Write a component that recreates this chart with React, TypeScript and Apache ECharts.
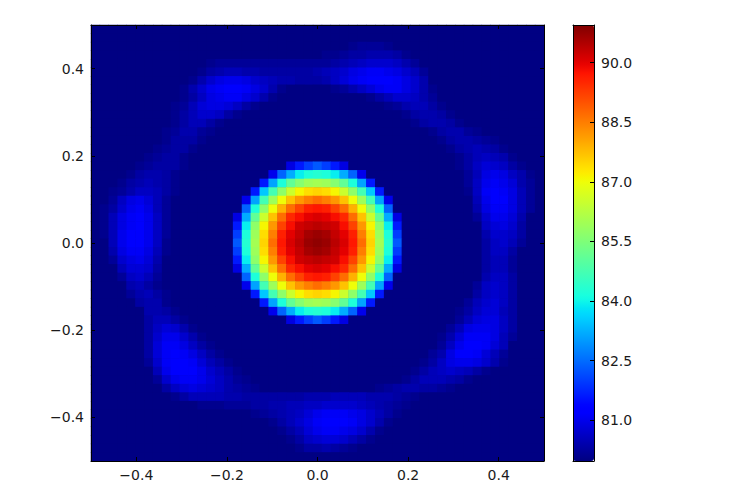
import React, { useEffect, useRef } from "react";
import * as echarts from "echarts";

const gridSize = 51;
const backgroundValue = 80;
const colorMin = 79.97;
const colorMax = 90.95;
const axisTicks = [-0.4, -0.2, 0, 0.2, 0.4];
const colorbarTicks = [81, 82.5, 84, 85.5, 87, 88.5, 90];

// Each entry: [row from top, first column, ...cell values]
const coreRows: number[][] = [
  [16, 22, 80.9, 81.6, 82.0, 82.3, 82.0, 81.6, 80.9],
  [17, 20, 81.0, 82.4, 83.2, 83.9, 84.2, 84.3, 84.2, 83.9, 83.2, 82.4, 81.0],
  [18, 19, 81.6, 83.1, 84.2, 85.1, 85.6, 85.9, 86.0, 85.9, 85.6, 85.1, 84.2, 83.1, 81.6],
  [19, 18, 81.6, 83.5, 84.7, 85.7, 86.5, 87.1, 87.4, 87.5, 87.4, 87.1, 86.5, 85.7, 84.7, 83.5, 81.6],
  [20, 17, 81.0, 83.1, 84.7, 85.9, 87.0, 87.7, 88.2, 88.5, 88.7, 88.5, 88.2, 87.7, 87.0, 85.9, 84.7, 83.1, 81.0],
  [21, 17, 82.4, 84.2, 85.7, 87.0, 87.9, 88.7, 89.2, 89.6, 89.7, 89.6, 89.2, 88.7, 87.9, 87.0, 85.7, 84.2, 82.4],
  [22, 16, 80.9, 83.2, 85.1, 86.5, 87.7, 88.7, 89.5, 89.8, 90.0, 90.1, 90.0, 89.8, 89.5, 88.7, 87.7, 86.5, 85.1, 83.2, 80.9],
  [23, 16, 81.6, 83.9, 85.7, 87.1, 88.2, 89.2, 89.8, 90.2, 90.3, 90.4, 90.3, 90.2, 89.8, 89.2, 88.2, 87.1, 85.7, 83.9, 81.6],
  [24, 16, 82.0, 84.2, 85.9, 87.4, 88.5, 89.6, 90.0, 90.3, 90.6, 90.7, 90.6, 90.3, 90.0, 89.6, 88.5, 87.4, 85.9, 84.2, 82.0],
  [25, 16, 82.3, 84.3, 86.0, 87.5, 88.7, 89.7, 90.1, 90.4, 90.7, 90.8, 90.7, 90.4, 90.1, 89.7, 88.7, 87.5, 86.0, 84.3, 82.3],
  [26, 16, 82.0, 84.2, 85.9, 87.4, 88.5, 89.6, 90.0, 90.3, 90.6, 90.7, 90.6, 90.3, 90.0, 89.6, 88.5, 87.4, 85.9, 84.2, 82.0],
  [27, 16, 81.6, 83.9, 85.7, 87.1, 88.2, 89.2, 89.8, 90.2, 90.3, 90.4, 90.3, 90.2, 89.8, 89.2, 88.2, 87.1, 85.7, 83.9, 81.6],
  [28, 16, 80.9, 83.2, 85.1, 86.5, 87.7, 88.7, 89.5, 89.8, 90.0, 90.1, 90.0, 89.8, 89.5, 88.7, 87.7, 86.5, 85.1, 83.2, 80.9],
  [29, 17, 82.4, 84.2, 85.7, 87.0, 87.9, 88.7, 89.2, 89.6, 89.7, 89.6, 89.2, 88.7, 87.9, 87.0, 85.7, 84.2, 82.4],
  [30, 17, 81.0, 83.1, 84.7, 85.9, 87.0, 87.7, 88.2, 88.5, 88.7, 88.5, 88.2, 87.7, 87.0, 85.9, 84.7, 83.1, 81.0],
  [31, 18, 81.6, 83.5, 84.7, 85.7, 86.5, 87.1, 87.4, 87.5, 87.4, 87.1, 86.5, 85.7, 84.7, 83.5, 81.6],
  [32, 19, 81.6, 83.1, 84.2, 85.1, 85.6, 85.9, 86.0, 85.9, 85.6, 85.1, 84.2, 83.1, 81.6],
  [33, 20, 81.0, 82.4, 83.2, 83.9, 84.2, 84.3, 84.2, 83.9, 83.2, 82.4, 81.0],
  [34, 22, 80.9, 81.6, 82.0, 82.3, 82.0, 81.6, 80.9],
];

const ringRows: number[][] = [
  [2, 29, 80.1, 80.2, 80.2, 80.2, 80.1],
  [3, 26, 80.1, 80.1, 80.2, 80.3, 80.3, 80.4, 80.4, 80.4, 80.3, 80.1],
  [4, 13, 80.1, 80.2, 80.2, 80.2, 80.2, 80.2, 80.2, 80.2, 80.2, 80.2, 80.2, 80.2, 80.2, 80.2, 80.3, 80.4, 80.5, 80.6, 80.7, 80.7, 80.7, 80.6, 80.4, 80.2],
  [5, 12, 80.1, 80.3, 80.4, 80.5, 80.5, 80.4, 80.4, 80.3, 80.3, 80.3, 80.3, 80.3, 80.3, 80.4, 80.5, 80.6, 80.7, 80.9, 81.0, 81.1, 81.1, 81.0, 80.9, 80.7, 80.5, 80.2],
  [6, 11, 80.1, 80.4, 80.7, 80.9, 81.0, 81.0, 80.9, 80.7, 80.6, 80.5, 80.4, 80.4, 80.3, 80.3, 80.3, 80.4, 80.6, 80.8, 81.0, 81.1, 81.2, 81.2, 81.2, 81.1, 80.9, 80.7, 80.4],
  [7, 10, 80.1, 80.4, 80.7, 81.0, 81.1, 81.2, 81.2, 81.1, 80.9, 80.7, 80.4, 80.1],
  [7, 27, 80.1, 80.2, 80.4, 80.6, 80.8, 81.0, 81.1, 81.1, 80.9, 80.7, 80.4, 80.1],
  [8, 10, 80.1, 80.3, 80.6, 80.9, 81.0, 81.1, 81.1, 80.9, 80.7, 80.4, 80.1],
  [8, 31, 80.1, 80.3, 80.5, 80.7, 80.7, 80.6, 80.4, 80.2],
  [9, 9, 80.1, 80.2, 80.5, 80.8, 80.9, 80.9, 80.8, 80.6, 80.3, 80.1],
  [9, 33, 80.1, 80.2, 80.4, 80.5, 80.5, 80.3, 80.1],
  [10, 9, 80.1, 80.3, 80.5, 80.7, 80.7, 80.6, 80.3, 80.1],
  [10, 35, 80.1, 80.3, 80.4, 80.4, 80.3, 80.1],
  [11, 9, 80.1, 80.3, 80.5, 80.5, 80.3, 80.1],
  [11, 36, 80.1, 80.3, 80.4, 80.4, 80.3, 80.1],
  [12, 8, 80.1, 80.2, 80.4, 80.4, 80.2, 80.1],
  [12, 38, 80.1, 80.3, 80.4, 80.4, 80.2, 80.1],
  [13, 8, 80.1, 80.3, 80.3, 80.3, 80.1],
  [13, 39, 80.1, 80.3, 80.4, 80.4, 80.3, 80.2, 80.1],
  [14, 7, 80.1, 80.2, 80.3, 80.3, 80.1],
  [14, 40, 80.1, 80.3, 80.4, 80.5, 80.4, 80.3, 80.1],
  [15, 6, 80.1, 80.2, 80.3, 80.3, 80.1],
  [15, 41, 80.1, 80.3, 80.5, 80.6, 80.5, 80.4, 80.1],
  [16, 5, 80.1, 80.2, 80.3, 80.3, 80.3, 80.1],
  [16, 41, 80.1, 80.3, 80.6, 80.8, 80.7, 80.6, 80.3, 80.1],
  [17, 4, 80.1, 80.3, 80.4, 80.4, 80.3, 80.1],
  [17, 42, 80.2, 80.5, 80.9, 81.0, 80.9, 80.6, 80.4, 80.1],
  [18, 3, 80.1, 80.3, 80.4, 80.5, 80.4, 80.3, 80.1],
  [18, 42, 80.2, 80.6, 81.0, 81.1, 81.0, 80.8, 80.4, 80.2],
  [19, 2, 80.1, 80.2, 80.4, 80.6, 80.6, 80.5, 80.3, 80.1],
  [19, 42, 80.1, 80.6, 81.1, 81.2, 81.1, 80.9, 80.5, 80.2],
  [20, 2, 80.2, 80.6, 80.9, 81.0, 80.8, 80.5, 80.2],
  [20, 43, 80.5, 81.0, 81.2, 81.2, 80.9, 80.5, 80.2],
  [21, 1, 80.1, 80.3, 80.7, 81.0, 81.1, 80.9, 80.5, 80.2],
  [21, 43, 80.4, 80.9, 81.1, 81.1, 80.9, 80.5, 80.2],
  [22, 1, 80.1, 80.5, 80.9, 81.1, 81.2, 81.0, 80.6, 80.2],
  [22, 43, 80.2, 80.7, 81.0, 81.0, 80.8, 80.4],
  [23, 1, 80.1, 80.5, 80.9, 81.1, 81.2, 81.0, 80.6, 80.2],
  [23, 44, 80.6, 80.8, 80.9, 80.7, 80.3],
  [24, 1, 80.1, 80.5, 81.0, 81.2, 81.2, 81.0, 80.6, 80.2],
  [24, 44, 80.4, 80.7, 80.7, 80.6, 80.3],
  [25, 2, 80.5, 81.0, 81.2, 81.2, 81.0, 80.6, 80.1],
  [25, 44, 80.3, 80.6, 80.7, 80.5, 80.2],
  [26, 2, 80.4, 80.9, 81.1, 81.1, 80.9, 80.5, 80.1],
  [26, 44, 80.3, 80.6, 80.6, 80.3],
  [27, 2, 80.2, 80.7, 80.9, 81.0, 80.8, 80.4],
  [27, 44, 80.3, 80.5, 80.5, 80.2],
  [28, 3, 80.5, 80.8, 80.8, 80.7, 80.3],
  [28, 44, 80.3, 80.5, 80.5, 80.2],
  [29, 3, 80.2, 80.6, 80.7, 80.5, 80.2],
  [29, 44, 80.4, 80.6, 80.6, 80.3],
  [30, 4, 80.4, 80.5, 80.3, 80.1],
  [30, 43, 80.2, 80.6, 80.7, 80.6, 80.3],
  [31, 4, 80.2, 80.4, 80.5, 80.3, 80.1],
  [31, 43, 80.3, 80.6, 80.7, 80.6, 80.3],
  [32, 5, 80.3, 80.4, 80.4, 80.1],
  [32, 42, 80.2, 80.5, 80.7, 80.8, 80.6, 80.3],
  [33, 6, 80.4, 80.4, 80.3, 80.1],
  [33, 41, 80.1, 80.3, 80.6, 80.8, 80.8, 80.5, 80.3],
  [34, 6, 80.3, 80.5, 80.5, 80.3, 80.1],
  [34, 41, 80.2, 80.5, 80.8, 80.9, 80.9, 80.6, 80.3],
  [35, 6, 80.3, 80.6, 80.8, 80.7, 80.4, 80.1],
  [35, 40, 80.2, 80.5, 80.9, 81.0, 81.0, 80.9, 80.6, 80.3],
  [36, 6, 80.3, 80.7, 81.0, 81.0, 80.7, 80.4, 80.1],
  [36, 39, 80.1, 80.4, 80.8, 81.1, 81.1, 81.1, 80.9, 80.5, 80.2],
  [37, 6, 80.3, 80.8, 81.1, 81.1, 80.9, 80.6, 80.3, 80.1],
  [37, 39, 80.2, 80.6, 81.0, 81.2, 81.2, 81.1, 80.8, 80.5],
  [38, 6, 80.3, 80.8, 81.1, 81.2, 81.1, 80.9, 80.6, 80.3, 80.1],
  [38, 38, 80.2, 80.4, 80.9, 81.2, 81.2, 81.1, 80.8, 80.5, 80.2],
  [39, 6, 80.2, 80.7, 81.1, 81.2, 81.2, 81.1, 80.8, 80.5, 80.3, 80.1],
  [39, 37, 80.1, 80.3, 80.6, 80.9, 81.0, 81.0, 80.9, 80.7, 80.4, 80.1],
  [40, 7, 80.5, 81.0, 81.2, 81.2, 81.2, 81.0, 80.7, 80.5, 80.3, 80.1],
  [40, 36, 80.1, 80.3, 80.5, 80.6, 80.7, 80.6, 80.5, 80.3, 80.1],
  [41, 7, 80.2, 80.7, 81.0, 81.1, 81.1, 81.0, 80.8, 80.6, 80.4, 80.2, 80.1],
  [41, 35, 80.1, 80.3, 80.5, 80.5, 80.5, 80.4, 80.3, 80.1],
  [42, 8, 80.3, 80.6, 80.8, 80.9, 80.8, 80.7, 80.6, 80.4, 80.3, 80.2, 80.1],
  [42, 32, 80.1, 80.2, 80.3, 80.4, 80.4, 80.3, 80.3, 80.2, 80.1],
  [43, 9, 80.1, 80.3, 80.5, 80.5, 80.5, 80.5, 80.4, 80.4, 80.3, 80.3, 80.3, 80.3, 80.3, 80.3, 80.3, 80.4, 80.4, 80.4, 80.5, 80.5, 80.5, 80.5, 80.4, 80.4, 80.4, 80.3, 80.2, 80.1],
  [44, 12, 80.1, 80.1, 80.1, 80.2, 80.2, 80.2, 80.3, 80.3, 80.4, 80.4, 80.5, 80.5, 80.6, 80.6, 80.7, 80.7, 80.7, 80.7, 80.6, 80.5, 80.4, 80.3, 80.2, 80.1],
  [45, 18, 80.1, 80.2, 80.3, 80.4, 80.5, 80.6, 80.8, 81.0, 81.1, 81.1, 81.1, 81.0, 80.9, 80.7, 80.5, 80.3, 80.1],
  [46, 20, 80.1, 80.3, 80.5, 80.7, 80.9, 81.1, 81.2, 81.2, 81.2, 81.1, 80.9, 80.7, 80.4, 80.1],
  [47, 21, 80.1, 80.3, 80.5, 80.8, 81.0, 81.1, 81.1, 81.0, 80.9, 80.7, 80.4, 80.1],
  [48, 22, 80.1, 80.3, 80.6, 80.7, 80.8, 80.8, 80.7, 80.5, 80.3, 80.1],
  [49, 23, 80.1, 80.3, 80.3, 80.4, 80.3, 80.2, 80.1],
];

// matplotlib "jet" breakpoints
const jetRed = [[0, 0], [0.35, 0], [0.66, 1], [0.89, 1], [1, 0.5]];
const jetGreen = [[0, 0], [0.125, 0], [0.375, 1], [0.64, 1], [0.91, 0], [1, 0]];
const jetBlue = [[0, 0.5], [0.11, 1], [0.34, 1], [0.65, 0], [1, 0]];

function channel(stops: number[][], t: number) {
  for (let i = 1; i < stops.length; i++) {
    if (t <= stops[i][0]) {
      const [a, va] = stops[i - 1];
      const [b, vb] = stops[i];
      return Math.round(255 * (va + ((vb - va) * (t - a)) / (b - a)));
    }
  }
  return Math.round(255 * stops[stops.length - 1][1]);
}

const jetColors: string[] = [];
for (let i = 0; i <= 128; i++) {
  const t = i / 128;
  jetColors.push(`rgb(${channel(jetRed, t)},${channel(jetGreen, t)},${channel(jetBlue, t)})`);
}

function buildCells() {
  const cells: number[][] = [];
  const grid: number[][] = [];
  for (let r = 0; r < gridSize; r++) grid.push(new Array(gridSize).fill(backgroundValue));
  for (const seg of [...ringRows, ...coreRows]) {
    const [row, start, ...values] = seg;
    values.forEach((v, i) => {
      grid[row][start + i] = v;
    });
  }
  for (let r = 0; r < gridSize; r++) {
    for (let c = 0; c < gridSize; c++) cells.push([c, r, grid[r][c]]);
  }
  return cells;
}

const indices = Array.from({ length: gridSize }, (_, i) => String(i));
const INK = "#1a1a1a";
const FONT = "'DejaVu Sans', sans-serif";
const fmt = (v: number) => v.toFixed(1).replace("-", "\u2212");

function frameAxis(position: string, gridIndex: number, labelled: boolean, ticks: number[], min: number, max: number) {
  const vertical = position === "left" || position === "right";
  return {
    type: "value",
    gridIndex,
    position,
    min,
    max,
    z: 5,
    splitLine: { show: false },
    axisLine: { show: true, onZero: false, lineStyle: { color: "#000", width: 1 } },
    axisTick: { show: true, inside: true, length: 4, customValues: ticks, lineStyle: { color: "#000", width: 1 } },
    axisLabel: labelled
      ? {
          show: true,
          customValues: ticks,
          formatter: fmt,
          color: INK,
          fontSize: 14,
          fontFamily: FONT,
          margin: 7,
          hideOverlap: false,
          padding: vertical ? [0, 0, 2, 0] : 0,
        }
      : { show: false },
  };
}

export default function App() {
  const ref = useRef<HTMLDivElement>(null);
  useEffect(() => {
    const chart = echarts.init(ref.current!, undefined, { renderer: "svg" });
    chart.setOption({
      animation: false,
      backgroundColor: "#fff",
      grid: [
        { left: 91, top: 25, width: 453, height: 436, show: true, backgroundColor: "#00007f", borderWidth: 0 },
        { left: 573, top: 25, width: 21, height: 436, show: false },
      ],
      xAxis: [
        { type: "category", gridIndex: 0, data: indices, show: false },
        frameAxis("bottom", 0, true, axisTicks, -0.5, 0.5),
        frameAxis("top", 0, false, axisTicks, -0.5, 0.5),
        { type: "value", gridIndex: 1, show: true, position: "bottom", min: 0, max: 1, z: 5, splitLine: { show: false }, axisTick: { show: false }, axisLabel: { show: false }, axisLine: { show: true, lineStyle: { color: "#000" } } },
        { type: "value", gridIndex: 1, show: true, position: "top", min: 0, max: 1, z: 5, splitLine: { show: false }, axisTick: { show: false }, axisLabel: { show: false }, axisLine: { show: true, lineStyle: { color: "#000" } } },
      ],
      yAxis: [
        { type: "category", gridIndex: 0, data: indices, show: false, inverse: true },
        frameAxis("left", 0, true, axisTicks, -0.5, 0.5),
        frameAxis("right", 0, false, axisTicks, -0.5, 0.5),
        frameAxis("right", 1, true, colorbarTicks, colorMin, colorMax),
        { type: "value", gridIndex: 1, show: true, position: "left", min: 0, max: 1, z: 5, splitLine: { show: false }, axisTick: { show: false }, axisLabel: { show: false }, axisLine: { show: true, lineStyle: { color: "#000" } } },
      ],
      visualMap: {
        type: "continuous",
        seriesIndex: 0,
        dimension: 2,
        min: colorMin,
        max: colorMax,
        calculable: false,
        realtime: false,
        hoverLink: false,
        inRange: { color: jetColors },
        orient: "vertical",
        left: 573,
        top: 25,
        padding: 0,
        itemWidth: 21,
        itemHeight: 436,
        text: ["", ""],
        showLabel: false,
        textGap: 0,
        z: 1,
      },
      series: [
        {
          type: "heatmap",
          xAxisIndex: 0,
          yAxisIndex: 0,
          data: buildCells(),
          itemStyle: { borderWidth: 0 },
          emphasis: { disabled: true },
          silent: true,
        },
      ],
    });
    return () => chart.dispose();
  }, []);
  return <div ref={ref} style={{ position: "absolute", left: 0, top: 0, width: 730, height: 486 }} />;
}
